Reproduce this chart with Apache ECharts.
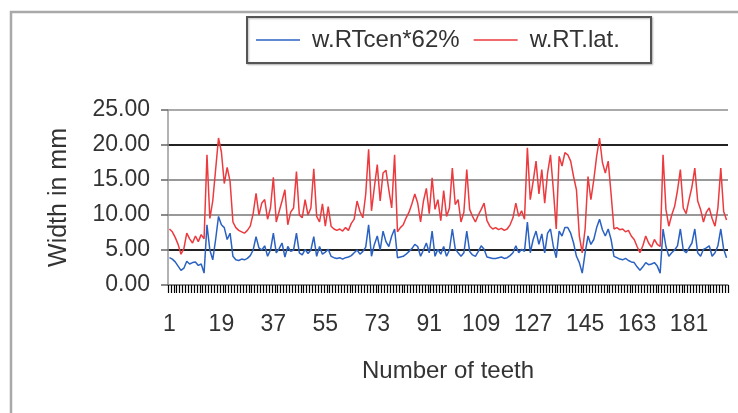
<!DOCTYPE html>
<html>
<head>
<meta charset="utf-8">
<script src="https://cdn.jsdelivr.net/npm/echarts@6/dist/echarts.min.js"></script>
<style>
html,body{margin:0;padding:0;background:#fff;}
#chart{width:738px;height:413px;}
</style>
</head>
<body>
<div id="chart"></div>
<script>
// ---- data ----
const seriesNames = ['w.RTcen*62%', 'w.RT.lat.'];
const yTicks = [0, 5, 10, 15, 20, 25];
const toothCount = 194;
const teeth = Array.from({length: toothCount}, (_, k) => String(k + 1));

const cen62 = [
  3.9, 3.7, 3.3, 2.7, 2.1, 2.4, 3.4, 3.0, 3.2, 3.3,
  2.8, 3.0, 1.7, 8.6, 5.0, 3.6, 6.5, 9.8, 8.6, 8.2,
  6.5, 7.4, 4.1, 3.6, 3.5, 3.7, 3.6, 3.8, 4.2, 5.0,
  6.9, 5.3, 5.0, 5.6, 4.1, 5.0, 7.4, 4.6, 5.2, 6.0,
  4.0, 5.5, 4.8, 5.0, 7.4, 4.6, 4.3, 5.1, 4.5, 5.0,
  6.9, 4.1, 5.5, 4.4, 4.7, 5.1, 4.1, 3.9, 3.8, 3.9,
  3.7, 3.9, 4.0, 4.2, 4.6, 5.0, 4.4, 4.8, 5.4, 8.6,
  4.1, 5.8, 7.0, 5.0, 7.7, 6.2, 5.5, 7.0, 8.0, 3.9,
  4.0, 4.1, 4.4, 4.8, 5.2, 5.8, 5.5, 4.1, 5.0, 6.0,
  4.6, 7.7, 4.1, 5.1, 4.4, 5.5, 4.1, 5.0, 8.0, 5.2,
  4.6, 4.1, 4.6, 7.7, 4.8, 4.3, 4.1, 4.8, 5.6, 5.1,
  4.0, 3.9, 3.8, 3.8, 3.9, 4.0, 3.8, 3.9, 4.2, 4.6,
  5.6, 4.6, 5.1, 4.8, 9.0, 4.6, 6.5, 7.7, 5.8, 7.3,
  4.6, 7.4, 8.0, 5.5, 3.9, 7.7, 7.0, 8.2, 8.2, 7.4,
  6.0, 4.1, 3.2, 1.7, 4.6, 7.0, 5.8, 6.5, 8.2, 9.4,
  7.9, 7.0, 8.0, 6.5, 4.1, 3.9, 3.7, 3.6, 3.8, 3.5,
  3.3, 3.2, 2.6, 2.1, 2.6, 3.2, 2.9, 3.0, 3.2, 2.7,
  1.7, 8.0, 5.5, 4.1, 4.6, 5.0, 5.6, 8.0, 5.0, 4.6,
  5.3, 6.0, 8.0, 4.6, 4.1, 5.1, 5.3, 5.6, 4.1, 4.6,
  5.6, 8.0, 5.1, 3.9
];

const lat = [
  8.0, 7.6, 6.8, 5.8, 4.4, 5.2, 7.4, 6.6, 6.0, 7.0,
  6.2, 7.2, 6.6, 18.6, 9.5, 12.0, 16.5, 21.0, 19.0, 14.5,
  16.8, 14.8, 9.0, 8.2, 7.8, 7.6, 7.4, 7.8, 8.4, 10.2,
  13.1, 10.0, 11.7, 12.2, 9.4, 11.0, 15.4, 9.0, 10.5, 12.0,
  13.6, 8.6, 10.4, 11.0, 16.2, 10.0, 9.6, 12.2, 10.0, 11.0,
  16.6, 9.8, 9.0, 11.6, 8.4, 11.2, 8.4, 8.0, 7.8, 8.0,
  7.7, 8.2, 7.8, 8.8, 9.4, 12.0, 10.5, 9.6, 13.0, 19.4,
  10.6, 14.0, 17.2, 12.0, 16.0, 16.4, 13.6, 11.0, 18.6, 7.6,
  8.2, 8.6, 9.6, 10.4, 11.6, 13.0, 11.7, 9.0, 12.0, 13.8,
  10.2, 15.3, 10.8, 12.2, 9.2, 13.5, 9.8, 11.0, 16.7, 11.5,
  12.2, 9.0, 10.4, 16.5, 10.8, 9.8, 9.0, 10.0, 10.8, 11.7,
  9.2, 8.4, 8.0, 8.2, 7.9, 8.1, 7.8, 8.0, 8.6, 9.6,
  11.7, 9.8, 10.6, 9.4, 19.6, 12.2, 14.8, 17.7, 13.0, 16.5,
  11.7, 16.0, 18.6, 13.6, 8.0, 18.4, 17.0, 18.9, 18.6, 17.7,
  15.5, 13.6, 7.0, 4.6, 8.0, 15.5, 12.2, 15.0, 18.4, 21.0,
  17.5, 16.0, 17.7, 13.0, 8.0, 8.2, 7.9, 8.0, 7.6, 7.8,
  7.0, 6.5, 5.5, 4.6, 5.6, 7.0, 6.0, 5.4, 6.5, 5.8,
  5.5, 18.6, 10.8, 8.4, 10.0, 11.2, 13.5, 16.5, 11.0, 10.2,
  12.2, 14.0, 16.7, 12.0, 10.8, 9.0, 10.4, 11.0, 9.5, 8.4,
  11.0, 16.7, 10.5, 9.3
];

// ---- chart ----
const FONT = '"Liberation Sans", Arial, sans-serif';
const BLUE = '#2b62c2';
const RED = '#ec3a3e';
const chart = echarts.init(document.getElementById('chart'), null, {renderer: 'canvas'});

chart.setOption({
  animation: false,
  backgroundColor: '#ffffff',
  graphic: [
    {
      type: 'rect', z: -10, silent: true,
      shape: {x: 11, y: 12, width: 800, height: 500},
      style: {fill: 'none', stroke: '#a9a9a9', lineWidth: 2.5}
    },
    {
      type: 'rect', z: 0, silent: true,
      shape: {x: 247, y: 17, width: 404, height: 46},
      style: {fill: '#fff', stroke: '#555', lineWidth: 2,
              shadowColor: 'rgba(0,0,0,0.25)', shadowBlur: 2, shadowOffsetX: 1, shadowOffsetY: 1}
    }
  ],
  legend: {
    data: seriesNames,
    left: 256, top: 28,
    icon: 'rect',
    itemWidth: 44, itemHeight: 1.5, itemGap: 14,
    padding: 0,
    textStyle: {fontFamily: FONT, fontSize: 24, color: '#333', padding: [0, 0, 0, 7]},
    z: 5
  },
  grid: {left: 168, right: 10, top: 110, bottom: 128},
  xAxis: {
    type: 'category',
    data: teeth,
    boundaryGap: true,
    name: 'Number of teeth',
    nameLocation: 'middle',
    nameGap: 74,
    nameTextStyle: {fontFamily: FONT, fontSize: 24, color: '#333'},
    axisLine: {show: true, lineStyle: {color: '#888', width: 1.5}},
    axisTick: {show: true, interval: 0, length: 8, lineStyle: {color: '#000', width: 1.2}},
    axisLabel: {interval: 17, margin: 28, fontFamily: FONT, fontSize: 23, color: '#333'},
    splitLine: {show: false}
  },
  yAxis: {
    type: 'value',
    min: 0, max: 25, interval: 5,
    name: 'Width in mm',
    nameLocation: 'middle',
    nameGap: 96,
    nameRotate: 90,
    nameTextStyle: {fontFamily: FONT, fontSize: 25, color: '#333'},
    axisLine: {show: true, lineStyle: {color: '#999', width: 1.5}},
    axisTick: {show: true, inside: false, length: 7, lineStyle: {color: '#666', width: 1.5}},
    axisLabel: {margin: 18, fontFamily: FONT, fontSize: 23, color: '#333',
                formatter: v => v.toFixed(2)},
    splitLine: {show: true, lineStyle: {width: 2, color: ['#888', '#222', '#999', '#999', '#222', '#aaa']}}
  },
  series: [
    {
      name: seriesNames[0], type: 'line', data: cen62,
      symbol: 'none', showSymbol: false,
      lineStyle: {color: BLUE, width: 1.5},
      itemStyle: {color: BLUE}
    },
    {
      name: seriesNames[1], type: 'line', data: lat,
      symbol: 'none', showSymbol: false,
      lineStyle: {color: RED, width: 1.5},
      itemStyle: {color: RED}
    }
  ]
});
</script>
</body>
</html>
